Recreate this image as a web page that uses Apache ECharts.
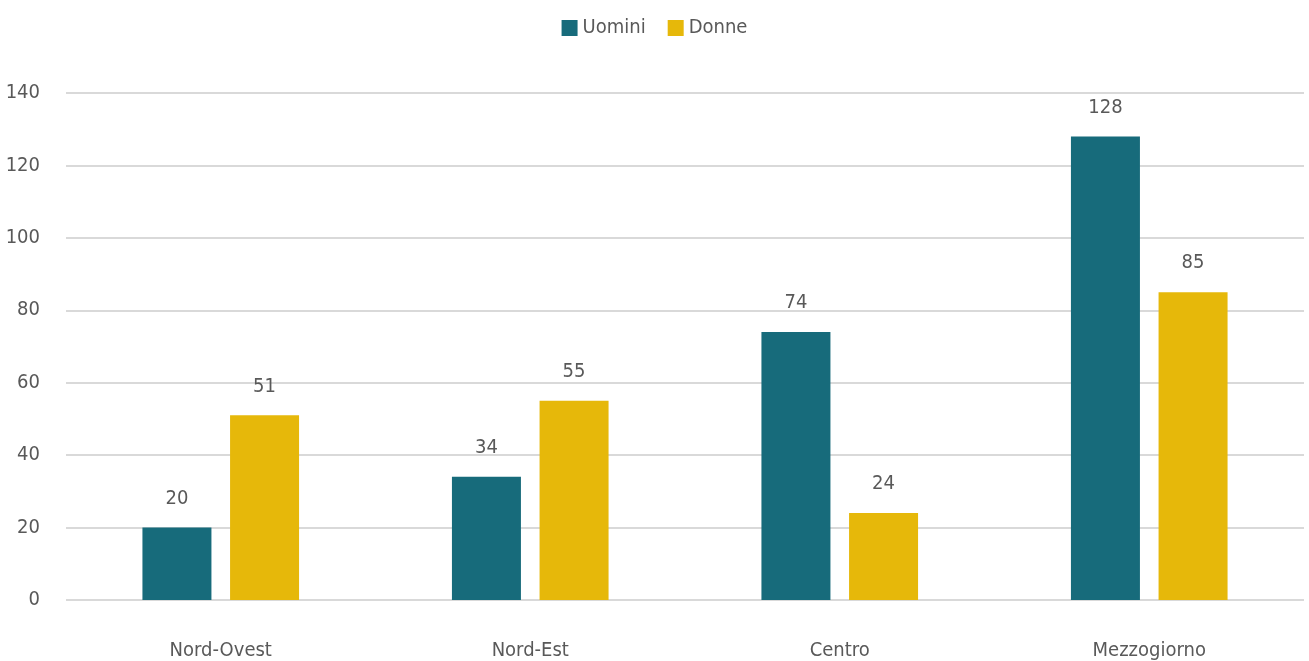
<!DOCTYPE html>
<html>
<head>
<meta charset="utf-8">
<script src="https://cdn.jsdelivr.net/npm/echarts@6/dist/echarts.min.js"></script>
<style>
html,body{margin:0;padding:0;background:#fff;}
#c{width:1309px;height:661px;}
</style>
</head>
<body>
<div id="c"></div>
<script>
const categories = ["Nord-Ovest", "Nord-Est", "Centro", "Mezzogiorno"];
const uomini = [20, 34, 74, 128];
const donne = [51, 55, 24, 85];
const seriesNames = ["Uomini", "Donne"];

const FONT = "'Liberation Sans Narrow', 'DejaVu Sans Condensed', 'Roboto', sans-serif";
const TXT = "#595959";
const chart = echarts.init(document.getElementById('c'));
const lbl = {show: true, position: 'top', distance: 19, color: TXT, fontSize: 20, fontFamily: FONT};
chart.setOption({
  animation: false,
  textStyle: {fontFamily: FONT},
  legend: {
    top: 13, left: 'center', itemWidth: 16, itemHeight: 16, itemGap: 22,
    icon: 'rect',
    textStyle: {color: TXT, fontSize: 20, fontFamily: FONT},
    data: seriesNames
  },
  grid: {left: 66, right: 5, top: 93, bottom: 61, containLabel: false},
  xAxis: {
    type: 'category', data: categories,
    axisLine: {show: false}, axisTick: {show: false},
    axisLabel: {color: TXT, fontSize: 20, fontFamily: FONT, margin: 41}
  },
  yAxis: {
    type: 'value', min: 0, max: 140, interval: 20,
    axisLine: {show: false}, axisTick: {show: false},
    axisLabel: {color: TXT, fontSize: 20, fontFamily: FONT, margin: 26, padding: [5, 0, 0, 0]},
    splitLine: {lineStyle: {color: '#d9d9d9', width: 2}}
  },
  series: [
    {name: seriesNames[0], type: 'bar', data: uomini, barWidth: 69, barGap: '27%', itemStyle: {color: '#176B7B'}, label: lbl},
    {name: seriesNames[1], type: 'bar', data: donne, barWidth: 69, barGap: '27%', itemStyle: {color: '#E6B80A'}, label: lbl}
  ]
});
</script>
</body>
</html>
